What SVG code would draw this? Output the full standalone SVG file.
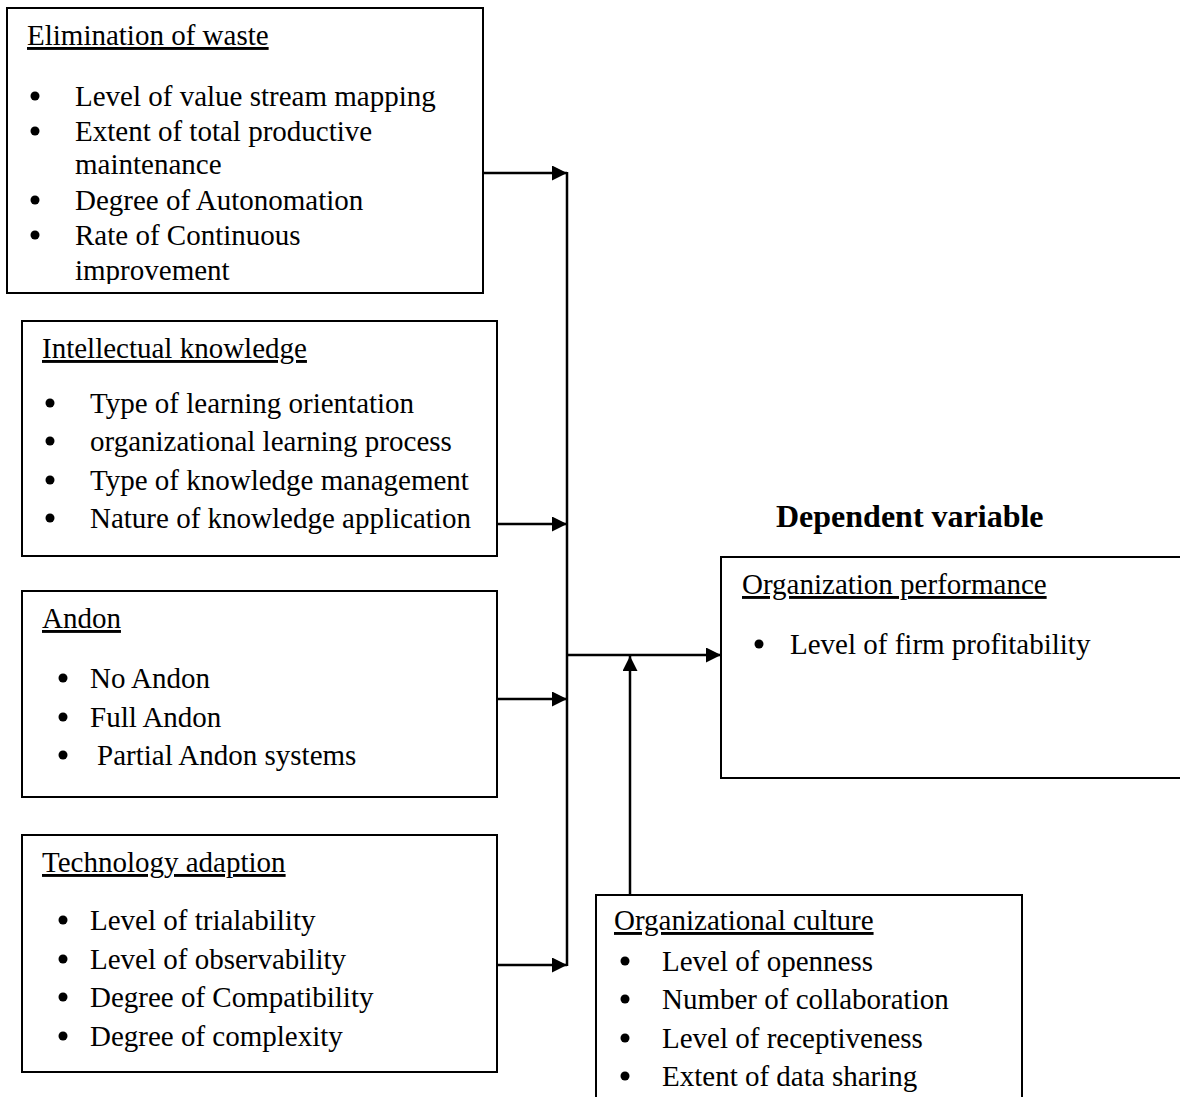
<svg xmlns="http://www.w3.org/2000/svg" width="1180" height="1097" viewBox="0 0 1180 1097">
<style>
text{font-family:"Liberation Serif","Times New Roman",serif;font-size:29px;fill:#000}
.t{text-decoration:underline}
.h{font-weight:bold;font-size:32px}
.box{fill:#fff;stroke:#000;stroke-width:2}
.ln{stroke:#000;stroke-width:2.5;fill:none}
.b{fill:#000}
</style>
<defs>
<marker id="ah" markerWidth="16" markerHeight="16" refX="15" refY="7.5" orient="auto" markerUnits="userSpaceOnUse">
<path d="M0,0 L15,7.5 L0,15 Z" fill="#000"/>
</marker>
<clipPath id="c1"><rect x="7" y="8" width="476" height="276"/></clipPath>
</defs>

<g id="connectors">
<line class="ln" x1="483" y1="173" x2="567" y2="173" marker-end="url(#ah)"/>
<line class="ln" x1="567" y1="172" x2="567" y2="966"/>
<line class="ln" x1="497" y1="524" x2="567" y2="524" marker-end="url(#ah)"/>
<line class="ln" x1="497" y1="699" x2="567" y2="699" marker-end="url(#ah)"/>
<line class="ln" x1="497" y1="965" x2="567" y2="965" marker-end="url(#ah)"/>
<line class="ln" x1="567" y1="655" x2="721" y2="655" marker-end="url(#ah)"/>
<line class="ln" x1="630" y1="895" x2="630" y2="656" marker-end="url(#ah)"/>
</g>

<g id="elimination">
<rect class="box" x="7" y="8" width="476" height="285"/>
<g clip-path="url(#c1)">
<text class="t" x="27" y="45">Elimination of waste</text>
<circle class="b" cx="35" cy="96" r="4.5"/>
<text x="75" y="106">Level of value stream mapping</text>
<circle class="b" cx="35" cy="131" r="4.5"/>
<text x="75" y="141">Extent of total productive</text>
<text x="75" y="174">maintenance</text>
<circle class="b" cx="35" cy="200" r="4.5"/>
<text x="75" y="210">Degree of Autonomation</text>
<circle class="b" cx="35" cy="235" r="4.5"/>
<text x="75" y="245">Rate of Continuous</text>
<text x="75" y="280">improvement</text>
</g>
</g>

<g id="intellectual">
<rect class="box" x="22" y="321" width="475" height="235"/>
<text class="t" x="42" y="358">Intellectual knowledge</text>
<circle class="b" cx="50" cy="403" r="4.5"/>
<text x="90" y="413">Type of learning orientation</text>
<circle class="b" cx="50" cy="441" r="4.5"/>
<text x="90" y="451">organizational learning process</text>
<circle class="b" cx="50" cy="480" r="4.5"/>
<text x="90" y="490">Type of knowledge management</text>
<circle class="b" cx="50" cy="518" r="4.5"/>
<text x="90" y="528">Nature of knowledge application</text>
</g>

<g id="andon">
<rect class="box" x="22" y="591" width="475" height="206"/>
<text class="t" x="42" y="628">Andon</text>
<circle class="b" cx="63" cy="678" r="4.5"/>
<text x="90" y="688">No Andon</text>
<circle class="b" cx="63" cy="717" r="4.5"/>
<text x="90" y="727">Full Andon</text>
<circle class="b" cx="63" cy="755" r="4.5"/>
<text x="97" y="765">Partial Andon systems</text>
</g>

<g id="technology">
<rect class="box" x="22" y="835" width="475" height="237"/>
<text class="t" x="42" y="872">Technology adaption</text>
<circle class="b" cx="63" cy="920" r="4.5"/>
<text x="90" y="930">Level of trialability</text>
<circle class="b" cx="63" cy="959" r="4.5"/>
<text x="90" y="969">Level of observability</text>
<circle class="b" cx="63" cy="997" r="4.5"/>
<text x="90" y="1007">Degree of Compatibility</text>
<circle class="b" cx="63" cy="1036" r="4.5"/>
<text x="90" y="1046">Degree of complexity</text>
</g>

<g id="dependent-label">
<text class="h" x="776" y="527">Dependent variable</text>
</g>

<g id="performance">
<rect class="box" x="721" y="557" width="470" height="221"/>
<text class="t" x="742" y="594">Organization performance</text>
<circle class="b" cx="759" cy="644" r="4.5"/>
<text x="790" y="654">Level of firm profitability</text>
</g>

<g id="culture">
<rect class="box" x="596" y="895" width="426" height="220"/>
<text class="t" x="614" y="930">Organizational culture</text>
<circle class="b" cx="625" cy="961" r="4.5"/>
<text x="662" y="971">Level of openness</text>
<circle class="b" cx="625" cy="999" r="4.5"/>
<text x="662" y="1009">Number of collaboration</text>
<circle class="b" cx="625" cy="1038" r="4.5"/>
<text x="662" y="1048">Level of receptiveness</text>
<circle class="b" cx="625" cy="1076" r="4.5"/>
<text x="662" y="1086">Extent of data sharing</text>
</g>
</svg>
